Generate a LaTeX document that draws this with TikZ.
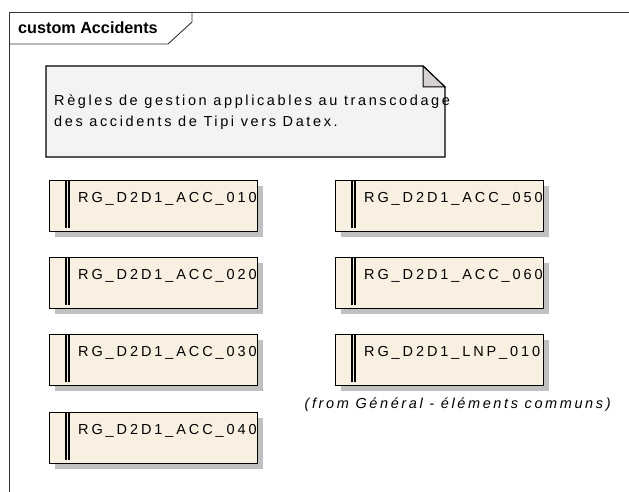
\documentclass[tikz,border=0pt]{standalone}
\usepackage{fontspec}
\setmainfont{Liberation Sans}
\newfontfamily\trk[LetterSpace=20]{Liberation Sans}
\newfontfamily\trkn[LetterSpace=18]{Liberation Sans}
\usetikzlibrary{shadows}
\definecolor{boxfill}{HTML}{FAF0E2}
\definecolor{notefill}{HTML}{F5F2F5}
\definecolor{foldfill}{HTML}{D4D0D4}
\definecolor{shadowgray}{HTML}{C0C0C0}
\begin{document}
\begin{tikzpicture}[x=1pt,y=-1pt,
  rgbox/.style={draw=black, line width=1.3pt, fill=boxfill, minimum width=208pt, minimum height=51pt,
    inner sep=0pt, anchor=north west,
    general shadow={fill=shadowgray, shadow xshift=5pt, shadow yshift=-5pt}},
  rgtext/.style={anchor=base west, inner sep=0pt, font=\trk\fontsize{14.5}{17}\selectfont, text=black},
  frameline/.style={draw=black!80, line width=0.9pt},
  notetext/.style={anchor=base west, inner sep=0pt, font=\trkn\fontsize{14.5}{17}\selectfont, text=black}]
\useasboundingbox (0,0) rectangle (629,492);
% frame
\coordinate (ftl) at (9,12);
\coordinate (ftr) at (629,12);
\coordinate (fbl) at (9,492);
\draw[frameline] (ftr) -- (ftl) -- (fbl);
\coordinate (tab1) at (192,12);
\coordinate (tab2) at (192,22);
\coordinate (tab3) at (168,44);
\coordinate (tab4) at (9,44);
\draw[frameline] (tab1) -- (tab2) -- (tab3) -- (tab4);
\node[anchor=base west, inner sep=0pt, font=\bfseries\fontsize{16.2}{19}\selectfont] (title) at (18,33.5) {custom Accidents};
% note
\coordinate (n1) at (46,66);
\coordinate (n2) at (423,66);
\coordinate (n3) at (445,87);
\coordinate (n4) at (445,157);
\coordinate (n5) at (46,157);
\coordinate (n6) at (423,87);
\draw[line width=1.3pt, fill=notefill] (n1) -- (n2) -- (n3) -- (n4) -- (n5) -- cycle;
\draw[line width=1pt, fill=foldfill] (n2) -- (n6) -- (n3) -- cycle;
\node[notetext] (nt1) at (54,106) {Règles de gestion applicables au transcodage};
\node[notetext] (nt2) at (54,127) {des accidents de Tipi vers Datex.};
% boxes
\foreach \n/\x/\y/\t in {a/49/180/RG\_D2D1\_ACC\_010, b/49/257/RG\_D2D1\_ACC\_020, c/49/334/RG\_D2D1\_ACC\_030, d/49/412/RG\_D2D1\_ACC\_040,
                        e/335/180/RG\_D2D1\_ACC\_050, f/335/257/RG\_D2D1\_ACC\_060, g/335/334/RG\_D2D1\_LNP\_010}{
  \node[rgbox] (\n) at (\x,\y) {};
  \draw[line width=1.1pt] ([xshift=17pt]\n.north west) -- ([xshift=17pt,yshift=4pt]\n.south west);
  \draw[line width=1.1pt] ([xshift=20pt]\n.north west) -- ([xshift=20pt,yshift=4pt]\n.south west);
  \node[rgtext] (\n t) at ([xshift=29pt,yshift=-22pt]\n.north west) {\t};
}
\node[anchor=base, inner sep=0pt, font=\trkn\itshape\fontsize{14.5}{17}\selectfont, text=black] (from) at ([xshift=18pt,yshift=-22pt]g.south) {(from Général - éléments communs)};
\end{tikzpicture}
\end{document}
